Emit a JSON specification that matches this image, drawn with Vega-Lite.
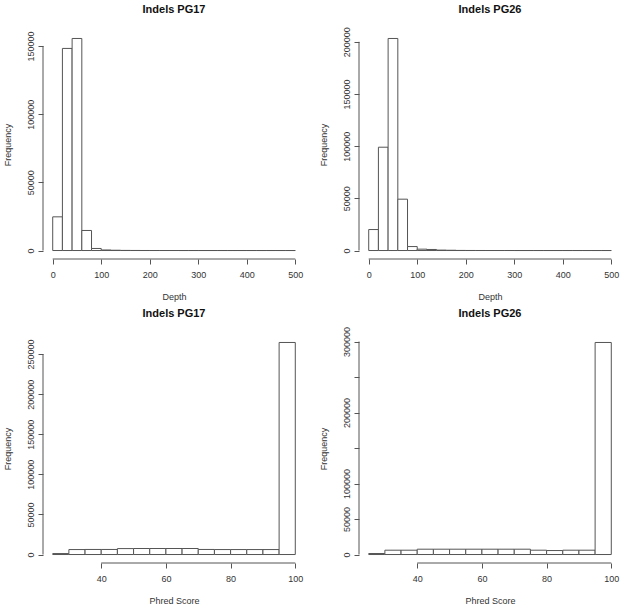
{
  "$schema": "https://vega.github.io/schema/vega-lite/v6.json",
  "background": "white",
  "padding": {"left": 3, "top": 3, "right": 0, "bottom": 0},
  "bounds": "flush",
  "columns": 2,
  "spacing": {"row": 75, "column": 54},
  "datasets": {
    "pg17depth": [
      {"start": 0, "end": 20, "count": 24700},
      {"start": 20, "end": 40, "count": 148200},
      {"start": 40, "end": 60, "count": 155500},
      {"start": 60, "end": 80, "count": 14700},
      {"start": 80, "end": 100, "count": 1500},
      {"start": 100, "end": 120, "count": 400},
      {"start": 120, "end": 140, "count": 200},
      {"start": 140, "end": 160, "count": 80},
      {"start": 160, "end": 180, "count": 40},
      {"start": 180, "end": 200, "count": 20},
      {"start": 200, "end": 220, "count": 10},
      {"start": 220, "end": 240, "count": 5},
      {"start": 240, "end": 260, "count": 3},
      {"start": 260, "end": 280, "count": 2},
      {"start": 280, "end": 300, "count": 1},
      {"start": 300, "end": 320, "count": 1},
      {"start": 320, "end": 340, "count": 0},
      {"start": 340, "end": 360, "count": 0},
      {"start": 360, "end": 380, "count": 0},
      {"start": 380, "end": 400, "count": 0},
      {"start": 400, "end": 420, "count": 0},
      {"start": 420, "end": 440, "count": 0},
      {"start": 440, "end": 460, "count": 0},
      {"start": 460, "end": 480, "count": 0},
      {"start": 480, "end": 500, "count": 1}
    ],
    "pg26depth": [
      {"start": 0, "end": 20, "count": 20100},
      {"start": 20, "end": 40, "count": 99000},
      {"start": 40, "end": 60, "count": 203200},
      {"start": 60, "end": 80, "count": 49200},
      {"start": 80, "end": 100, "count": 3800},
      {"start": 100, "end": 120, "count": 1300},
      {"start": 120, "end": 140, "count": 1000},
      {"start": 140, "end": 160, "count": 400},
      {"start": 160, "end": 180, "count": 250},
      {"start": 180, "end": 200, "count": 80},
      {"start": 200, "end": 220, "count": 40},
      {"start": 220, "end": 240, "count": 20},
      {"start": 240, "end": 260, "count": 10},
      {"start": 260, "end": 280, "count": 5},
      {"start": 280, "end": 300, "count": 3},
      {"start": 300, "end": 320, "count": 2},
      {"start": 320, "end": 340, "count": 1},
      {"start": 340, "end": 360, "count": 1},
      {"start": 360, "end": 380, "count": 0},
      {"start": 380, "end": 400, "count": 0},
      {"start": 400, "end": 420, "count": 0},
      {"start": 420, "end": 440, "count": 0},
      {"start": 440, "end": 460, "count": 0},
      {"start": 460, "end": 480, "count": 0},
      {"start": 480, "end": 500, "count": 1}
    ],
    "pg17phred": [
      {"start": 25, "end": 30, "count": 1200},
      {"start": 30, "end": 35, "count": 6200},
      {"start": 35, "end": 40, "count": 6300},
      {"start": 40, "end": 45, "count": 6300},
      {"start": 45, "end": 50, "count": 7400},
      {"start": 50, "end": 55, "count": 7500},
      {"start": 55, "end": 60, "count": 7500},
      {"start": 60, "end": 65, "count": 7500},
      {"start": 65, "end": 70, "count": 7500},
      {"start": 70, "end": 75, "count": 6300},
      {"start": 75, "end": 80, "count": 6200},
      {"start": 80, "end": 85, "count": 6200},
      {"start": 85, "end": 90, "count": 6200},
      {"start": 90, "end": 95, "count": 6200},
      {"start": 95, "end": 100, "count": 264500}
    ],
    "pg26phred": [
      {"start": 25, "end": 30, "count": 1400},
      {"start": 30, "end": 35, "count": 6100},
      {"start": 35, "end": 40, "count": 6100},
      {"start": 40, "end": 45, "count": 7500},
      {"start": 45, "end": 50, "count": 7500},
      {"start": 50, "end": 55, "count": 7500},
      {"start": 55, "end": 60, "count": 7500},
      {"start": 60, "end": 65, "count": 7500},
      {"start": 65, "end": 70, "count": 7500},
      {"start": 70, "end": 75, "count": 7500},
      {"start": 75, "end": 80, "count": 6100},
      {"start": 80, "end": 85, "count": 5600},
      {"start": 85, "end": 90, "count": 6100},
      {"start": 90, "end": 95, "count": 6100},
      {"start": 95, "end": 100, "count": 298700}
    ]
  },
  "concat": [
    {
      "width": 262, "height": 229,
      "title": {"text": "Indels PG17", "frame": "group", "offset": 15},
      "layer": [
        {
          "data": {"name": "pg17depth"},
          "mark": {"type": "bar", "fill": "white", "stroke": "#555", "strokeWidth": 1},
          "encoding": {
            "x": {"field": "start", "type": "quantitative", "scale": {"domain": [-20, 520], "nice": false, "zero": false}, "axis": {"values": [0, 100, 200, 300, 400, 500], "labelOverlap": false, "title": "Depth"}},
            "x2": {"field": "end"},
            "y": {"field": "count", "type": "quantitative", "scale": {"domain": [-6220, 161720], "nice": false, "zero": false}, "axis": {"values": [0, 50000, 100000, 150000], "labelOverlap": false, "title": "Frequency"}},
            "y2": {"datum": 0}
          }
        },
        {
          "data": {"values": [{}]},
          "mark": {"type": "rule", "stroke": "#555"},
          "encoding": {"x": {"datum": 0, "type": "quantitative", "axis": {"values": [0, 100, 200, 300, 400, 500], "labelOverlap": false, "title": "Depth"}}, "x2": {"datum": 500}, "y": {"datum": -6220, "type": "quantitative", "axis": {"values": [0, 50000, 100000, 150000], "labelOverlap": false, "title": "Frequency"}}}
        },
        {
          "data": {"values": [{}]},
          "mark": {"type": "rule", "stroke": "#555"},
          "encoding": {"x": {"datum": -20, "type": "quantitative", "axis": {"values": [0, 100, 200, 300, 400, 500], "labelOverlap": false, "title": "Depth"}}, "y": {"datum": 0, "type": "quantitative", "axis": {"values": [0, 50000, 100000, 150000], "labelOverlap": false, "title": "Frequency"}}, "y2": {"datum": 150000}}
        }
      ]
    },
    {
      "width": 262, "height": 229,
      "title": {"text": "Indels PG26", "frame": "group", "offset": 12},
      "layer": [
        {
          "data": {"name": "pg26depth"},
          "mark": {"type": "bar", "fill": "white", "stroke": "#555", "strokeWidth": 1},
          "encoding": {
            "x": {"field": "start", "type": "quantitative", "scale": {"domain": [-20, 520], "nice": false, "zero": false}, "axis": {"values": [0, 100, 200, 300, 400, 500], "labelOverlap": false, "title": "Depth"}},
            "x2": {"field": "end"},
            "y": {"field": "count", "type": "quantitative", "scale": {"domain": [-8128, 211328], "nice": false, "zero": false}, "axis": {"values": [0, 50000, 100000, 150000, 200000], "labelOverlap": false, "title": "Frequency"}},
            "y2": {"datum": 0}
          }
        },
        {
          "data": {"values": [{}]},
          "mark": {"type": "rule", "stroke": "#555"},
          "encoding": {"x": {"datum": 0, "type": "quantitative", "axis": {"values": [0, 100, 200, 300, 400, 500], "labelOverlap": false, "title": "Depth"}}, "x2": {"datum": 500}, "y": {"datum": -8128, "type": "quantitative", "axis": {"values": [0, 50000, 100000, 150000, 200000], "labelOverlap": false, "title": "Frequency"}}}
        },
        {
          "data": {"values": [{}]},
          "mark": {"type": "rule", "stroke": "#555"},
          "encoding": {"x": {"datum": -20, "type": "quantitative", "axis": {"values": [0, 100, 200, 300, 400, 500], "labelOverlap": false, "title": "Depth"}}, "y": {"datum": 0, "type": "quantitative", "axis": {"values": [0, 50000, 100000, 150000, 200000], "labelOverlap": false, "title": "Frequency"}}, "y2": {"datum": 200000}}
        }
      ]
    },
    {
      "width": 262, "height": 229,
      "title": {"text": "Indels PG17", "frame": "group", "offset": 15},
      "layer": [
        {
          "data": {"name": "pg17phred"},
          "mark": {"type": "bar", "fill": "white", "stroke": "#555", "strokeWidth": 1},
          "encoding": {
            "x": {"field": "start", "type": "quantitative", "scale": {"domain": [22, 103], "nice": false, "zero": false}, "axis": {"values": [40, 60, 80, 100], "labelOverlap": false, "title": "Phred Score"}},
            "x2": {"field": "end"},
            "y": {"field": "count", "type": "quantitative", "scale": {"domain": [-10580, 275080], "nice": false, "zero": false}, "axis": {"values": [0, 50000, 100000, 150000, 200000, 250000], "labelOverlap": false, "title": "Frequency"}},
            "y2": {"datum": 0}
          }
        },
        {
          "data": {"values": [{}]},
          "mark": {"type": "rule", "stroke": "#555"},
          "encoding": {"x": {"datum": 40, "type": "quantitative", "axis": {"values": [40, 60, 80, 100], "labelOverlap": false, "title": "Phred Score"}}, "x2": {"datum": 100}, "y": {"datum": -10580, "type": "quantitative", "axis": {"values": [0, 50000, 100000, 150000, 200000, 250000], "labelOverlap": false, "title": "Frequency"}}}
        },
        {
          "data": {"values": [{}]},
          "mark": {"type": "rule", "stroke": "#555"},
          "encoding": {"x": {"datum": 22, "type": "quantitative", "axis": {"values": [40, 60, 80, 100], "labelOverlap": false, "title": "Phred Score"}}, "y": {"datum": 0, "type": "quantitative", "axis": {"values": [0, 50000, 100000, 150000, 200000, 250000], "labelOverlap": false, "title": "Frequency"}}, "y2": {"datum": 250000}}
        }
      ]
    },
    {
      "width": 262, "height": 229,
      "title": {"text": "Indels PG26", "frame": "group", "offset": 8},
      "layer": [
        {
          "data": {"name": "pg26phred"},
          "mark": {"type": "bar", "fill": "white", "stroke": "#555", "strokeWidth": 1},
          "encoding": {
            "x": {"field": "start", "type": "quantitative", "scale": {"domain": [22, 103], "nice": false, "zero": false}, "axis": {"values": [40, 60, 80, 100], "labelOverlap": false, "title": "Phred Score"}},
            "x2": {"field": "end"},
            "y": {"field": "count", "type": "quantitative", "scale": {"domain": [-11948, 310648], "nice": false, "zero": false}, "axis": {"values": [0, 50000, 100000, 150000, 200000, 250000, 300000], "labelOverlap": false, "labelExpr": "datum.value == 150000 || datum.value == 250000 ? '' : datum.label", "title": "Frequency"}},
            "y2": {"datum": 0}
          }
        },
        {
          "data": {"values": [{}]},
          "mark": {"type": "rule", "stroke": "#555"},
          "encoding": {"x": {"datum": 40, "type": "quantitative", "axis": {"values": [40, 60, 80, 100], "labelOverlap": false, "title": "Phred Score"}}, "x2": {"datum": 100}, "y": {"datum": -11948, "type": "quantitative", "axis": {"values": [0, 50000, 100000, 150000, 200000, 250000, 300000], "labelOverlap": false, "labelExpr": "datum.value == 150000 || datum.value == 250000 ? '' : datum.label", "title": "Frequency"}}}
        },
        {
          "data": {"values": [{}]},
          "mark": {"type": "rule", "stroke": "#555"},
          "encoding": {"x": {"datum": 22, "type": "quantitative", "axis": {"values": [40, 60, 80, 100], "labelOverlap": false, "title": "Phred Score"}}, "y": {"datum": 0, "type": "quantitative", "axis": {"values": [0, 50000, 100000, 150000, 200000, 250000, 300000], "labelOverlap": false, "labelExpr": "datum.value == 150000 || datum.value == 250000 ? '' : datum.label", "title": "Frequency"}}, "y2": {"datum": 300000}}
        }
      ]
    }
  ],
  "config": {
    "view": {"stroke": null},
    "font": "Liberation Sans",
    "axis": {
      "domain": false,
      "grid": false,
      "tickColor": "#555",
      "tickSize": 5,
      "labelFont": "Liberation Sans",
      "labelFontSize": 9,
      "labelColor": "#333",
      "labelFlush": false,
      "labelOverlap": false,
      "format": "d",
      "titleFont": "Liberation Sans",
      "titleFontSize": 9,
      "titleFontWeight": "normal",
      "titleColor": "#333"
    },
    "axisX": {"labelPadding": 6, "titlePadding": 13},
    "axisY": {"labelAngle": -90, "labelAlign": "center", "labelBaseline": "bottom", "labelPadding": 3, "titlePadding": 14},
    "title": {"font": "Liberation Sans", "fontSize": 11, "fontWeight": "bold", "color": "#111", "frame": "group"}
  }
}
